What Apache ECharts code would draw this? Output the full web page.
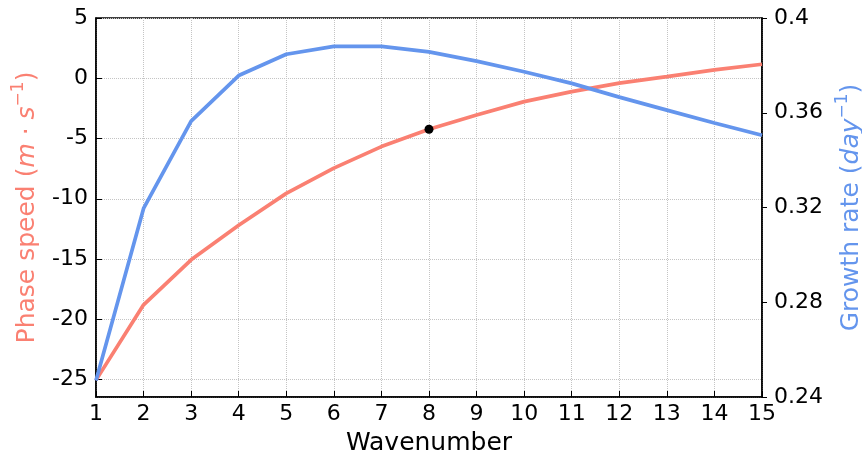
<!DOCTYPE html>
<html>
<head>
<meta charset="utf-8">
<script src="https://cdn.jsdelivr.net/npm/echarts@6/dist/echarts.min.js"></script>
<style>
html, body { margin: 0; padding: 0; background: #fff; }
#chart { width: 862px; height: 458px; }
</style>
</head>
<body>
<div id="chart"></div>
<script>
var wavenumbers = [1, 2, 3, 4, 5, 6, 7, 8, 9, 10, 11, 12, 13, 14, 15];
var phaseSpeed = [-25.05, -18.8, -15.07, -12.2, -9.55, -7.46, -5.67, -4.23, -3.05, -1.94, -1.11, -0.41, 0.13, 0.69, 1.16];
var growthRate = [0.247, 0.3196, 0.3565, 0.3757, 0.3847, 0.388, 0.388, 0.3857, 0.3818, 0.3773, 0.3724, 0.3666, 0.3611, 0.3557, 0.3505];
var markedWave = [8];
var markedSpeed = [-4.23];

var FONT = 'DejaVu Sans';
var RED = '#FA8072';
var BLUE = '#6495ED';

function pairs(xs, ys) {
	var out = [];
	for (var i = 0; i < xs.length; i++) out.push([xs[i], ys[i]]);
	return out;
}

var supRich = function(color) {
	return {
		t: { color: color, fontSize: 25, fontFamily: FONT, lineHeight: 34 },
		i: { color: color, fontSize: 25, fontFamily: FONT, fontStyle: 'italic', lineHeight: 34 },
		sup: { color: color, fontSize: 17, fontFamily: FONT, verticalAlign: 'top', lineHeight: 20 }
	};
};

var mychart = echarts.init(document.getElementById('chart'));
var option = {
	animation: false,
	backgroundColor: '#fff',
	grid: { left: 96, right: 100, top: 18, bottom: 61, containLabel: false, outerBoundsMode: 'none',
		show: true, borderColor: '#000', borderWidth: 1.5, backgroundColor: 'transparent' },
	xAxis: {
		type: 'value', min: 1, max: 15, interval: 1,
		name: 'Wavenumber', nameLocation: 'middle', nameGap: 34,
		nameTextStyle: { color: '#000', fontSize: 25, fontFamily: FONT },
		axisLine: { onZero: false, lineStyle: { color: '#000', width: 1.5 } },
		axisTick: { inside: true, length: 6, lineStyle: { color: '#000', width: 1 } },
		axisLabel: { color: '#000', fontSize: 22, fontFamily: FONT, margin: 6, showMinLabel: true, showMaxLabel: true },
		splitLine: { show: true, lineStyle: { type: 'dotted', color: '#c4c4c4', width: 1 } }
	},
	yAxis: [
		{
			type: 'value', position: 'left', min: -26.45, max: 5, splitNumber: 6,
			name: '{t|Phase speed (}{i|m}{t| · }{i|s}{sup|−1}{t|)}',
			nameLocation: 'middle', nameRotate: 90, nameGap: 52,
			nameTextStyle: { color: RED, fontSize: 25, fontFamily: FONT, rich: supRich(RED) },
			axisLine: { show: true, onZero: false, lineStyle: { color: '#000', width: 1.5 } },
			axisTick: { show: true, inside: true, length: 6, lineStyle: { color: '#000', width: 1 } },
			axisLabel: { color: '#000', fontSize: 22, fontFamily: FONT, margin: 8, showMinLabel: false, showMaxLabel: true },
			splitLine: { show: true, lineStyle: { type: 'dotted', color: '#c4c4c4', width: 1 } }
		},
		{
			type: 'value', position: 'right', min: 0.24, max: 0.4, interval: 0.04,
			name: '{t|Growth rate (}{i|day}{sup|−1}{t|)}',
			nameLocation: 'middle', nameRotate: 90, nameGap: 72,
			nameTextStyle: { color: BLUE, fontSize: 25, fontFamily: FONT, rich: supRich(BLUE) },
			axisLine: { show: true, onZero: false, lineStyle: { color: '#000', width: 1.5 } },
			axisTick: { show: true, inside: false, length: 5, lineStyle: { color: '#000', width: 1 } },
			axisLabel: { color: '#000', fontSize: 22, fontFamily: FONT, margin: 12, showMinLabel: true, showMaxLabel: true },
			splitLine: { show: false }
		}
	],
	series: [
		{
			type: 'line', yAxisIndex: 0, data: pairs(wavenumbers, phaseSpeed),
			showSymbol: false, lineStyle: { color: RED, width: 3.7 }, itemStyle: { color: RED }, z: 2
		},
		{
			type: 'scatter', yAxisIndex: 0, data: pairs(markedWave, markedSpeed),
			symbolSize: 9, itemStyle: { color: '#000', opacity: 1 }, z: 3
		},
		{
			type: 'line', yAxisIndex: 1, data: pairs(wavenumbers, growthRate),
			showSymbol: false, lineStyle: { color: BLUE, width: 3.7 }, itemStyle: { color: BLUE }, z: 4
		}
	]
};
mychart.setOption(option);
</script>
</body>
</html>
